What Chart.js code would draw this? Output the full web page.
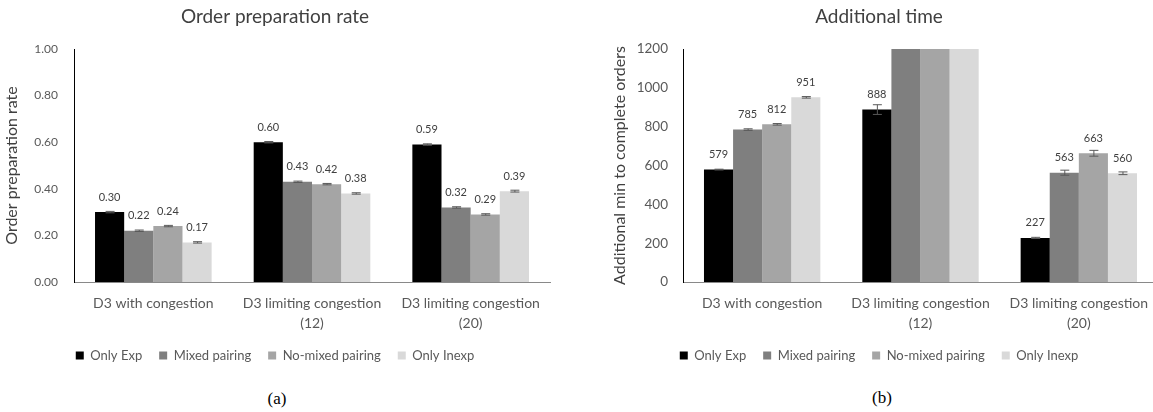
<!DOCTYPE html>
<html>
<head>
<meta charset="utf-8">
<script src="https://cdn.jsdelivr.net/npm/chart.js@4.4.1/dist/chart.umd.min.js"></script>
<style>
    body { margin: 0; background: #fff; width: 1153px; height: 412px; overflow: hidden; position: relative; }
    .box { position: absolute; top: 0; height: 372px; }
    #boxA { left: 0; width: 560px; }
    #boxB { left: 600px; width: 566px; }
    .cap { position: absolute; font-family: "Liberation Serif", serif; font-size: 17px; color: #000; transform: translate(-50%, -50%); }
</style>
</head>
<body>
<div class="box" id="boxA"><canvas id="chartA"></canvas></div>
<div class="box" id="boxB"><canvas id="chartB"></canvas></div>
<div class="cap" style="left:277px; top:399px">(a)</div>
<div class="cap" style="left:882px; top:398px">(b)</div>
<script>
const categories = [['D3 with congestion'], ['D3 limiting congestion', '(12)'], ['D3 limiting congestion', '(20)']];
const seriesNames = ['Only Exp', 'Mixed pairing', 'No-mixed pairing', 'Only Inexp'];
const seriesColors = ['#000000', '#7f7f7f', '#a5a5a5', '#d9d9d9'];

// (a) order preparation rate
const rateOnlyExp = [0.30, 0.60, 0.59];
const rateMixed = [0.22, 0.43, 0.32];
const rateNoMixed = [0.24, 0.42, 0.29];
const rateOnlyInexp = [0.17, 0.38, 0.39];
const rateErrOnlyExp = [0.003, 0.003, 0.003];
const rateErrMixed = [0.003, 0.003, 0.003];
const rateErrNoMixed = [0.003, 0.003, 0.003];
const rateErrOnlyInexp = [0.003, 0.003, 0.004];
const rateTicks = [0, 0.2, 0.4, 0.6, 0.8, 1.0];

// (b) additional time; the middle group runs off the top of the axis in the source
const timeOnlyExp = [579, 888, 227];
const timeMixed = [785, 1350, 563];
const timeNoMixed = [812, 1400, 663];
const timeOnlyInexp = [951, 1450, 560];
const timeErrOnlyExp = [2, 25, 3];
const timeErrMixed = [4, 0, 13];
const timeErrNoMixed = [4, 0, 15];
const timeErrOnlyInexp = [4, 0, 7];
const timeTicks = [0, 200, 400, 600, 800, 1000, 1200];

// value labels + error bars, drawn through the y scale
const barNotes = {
    id: 'barNotes',
    afterDatasetsDraw(chart, args, opts) {
        const ctx = chart.ctx;
        const y = chart.scales.y;
        ctx.save();
        chart.data.datasets.forEach((ds, i) => {
            const meta = chart.getDatasetMeta(i);
            meta.data.forEach((bar, j) => {
                const v = ds.data[j];
                if (v > y.max) return;
                const e = ds.errors[j];
                const top = y.getPixelForValue(v + e);
                const bot = y.getPixelForValue(v - e);
                ctx.strokeStyle = '#595959';
                ctx.lineWidth = 1;
                ctx.beginPath();
                ctx.moveTo(bar.x + 0.5, top);
                ctx.lineTo(bar.x + 0.5, bot);
                ctx.moveTo(bar.x - 4, top);
                ctx.lineTo(bar.x + 5, top);
                ctx.moveTo(bar.x - 4, bot);
                ctx.lineTo(bar.x + 5, bot);
                ctx.stroke();
                ctx.fillStyle = '#404040';
                ctx.font = '11px Lato';
                ctx.textAlign = 'center';
                ctx.textBaseline = 'middle';
                ctx.fillText(v.toFixed(opts.digits), bar.x, bar.y - 15);
            });
        });
        ctx.restore();
    }
};

function makeDatasets(values, errors) {
    return values.map((vals, i) => ({
        label: seriesNames[i],
        data: vals,
        errors: errors[i],
        backgroundColor: seriesColors[i],
        borderWidth: 0,
        barPercentage: 1,
        categoryPercentage: 0.735
    }));
}

function makeChart(id, title, yTitle, datasets, ticks, digits, opt) {
    return new Chart(document.getElementById(id).getContext('2d'), {
        type: 'bar',
        data: { labels: categories, datasets: datasets },
        plugins: [barNotes],
        options: {
            responsive: true,
            maintainAspectRatio: false,
            animation: false,
            devicePixelRatio: 1,
            layout: { padding: { left: 0, right: opt.rightPad, top: 0, bottom: 0 } },
            plugins: {
                barNotes: { digits: digits },
                tooltip: { enabled: false },
                title: {
                    display: true,
                    text: title,
                    color: '#404040',
                    font: { family: 'Lato', size: 19, weight: 'normal' },
                    padding: { top: 5.6, bottom: 20.6 }
                },
                legend: {
                    position: 'bottom',
                    labels: {
                        boxWidth: 8,
                        boxHeight: 8,
                        padding: 17,
                        color: '#595959',
                        font: { family: 'Lato', size: 13 }
                    }
                }
            },
            scales: {
                x: {
                    afterFit: (axis) => { axis.height = 50; },
                    grid: { display: false, drawTicks: false },
                    border: { display: true, color: '#898989' },
                    ticks: {
                        color: '#595959',
                        padding: 11,
                        maxRotation: 0,
                        autoSkip: false,
                        font: { family: 'Lato', size: 14, lineHeight: 1.43 }
                    }
                },
                y: {
                    min: ticks[0],
                    max: ticks[ticks.length - 1],
                    afterBuildTicks: (axis) => { axis.ticks = ticks.map(v => ({ value: v })); },
                    afterFit: (axis) => { axis.width = opt.axisWidth; },
                    grid: { display: false, drawTicks: false },
                    border: { display: true, color: '#000000' },
                    ticks: {
                        color: '#595959',
                        padding: opt.tickPad,
                        font: { family: 'Lato', size: opt.tickSize },
                        callback: (v) => v.toFixed(digits)
                    },
                    title: {
                        display: true,
                        text: yTitle,
                        color: '#404040',
                        font: { family: 'Lato', size: opt.yTitleSize, lineHeight: 1.2 },
                        padding: { top: opt.yTitleTop, bottom: 0 }
                    }
                }
            }
        }
    });
}

makeChart('chartA', 'Order preparation rate', 'Order preparation rate',
    makeDatasets([rateOnlyExp, rateMixed, rateNoMixed, rateOnlyInexp],
                 [rateErrOnlyExp, rateErrMixed, rateErrNoMixed, rateErrOnlyInexp]),
    rateTicks, 2,
    { tickSize: 12, tickPad: 16, axisWidth: 74, yTitleSize: 16, yTitleTop: 2.4, rightPad: 10 });

makeChart('chartB', 'Additional time', 'Additional min to complete orders',
    makeDatasets([timeOnlyExp, timeMixed, timeNoMixed, timeOnlyInexp],
                 [timeErrOnlyExp, timeErrMixed, timeErrNoMixed, timeErrOnlyInexp]),
    timeTicks, 0,
    { tickSize: 13.5, tickPad: 15, axisWidth: 83, yTitleSize: 16, yTitleTop: 10.4, rightPad: 8 });
</script>
</body>
</html>
